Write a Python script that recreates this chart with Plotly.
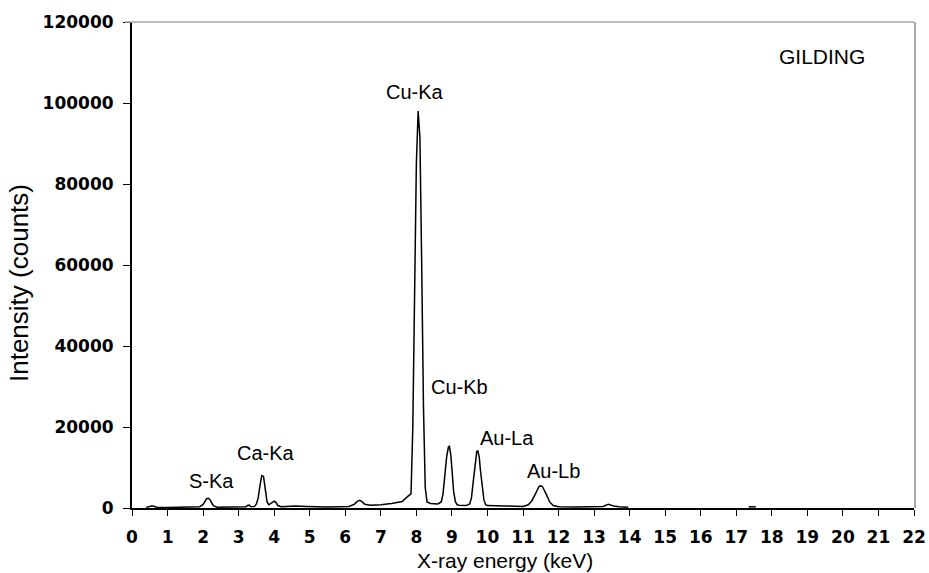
import plotly.graph_objects as go

# EDXRF spectrum of the gilding layer: energy (keV) vs detector counts
energy_kev = [0.40, 0.45, 0.50, 0.55, 0.60, 0.65, 0.70, 1.00, 1.50, 1.90,
              2.00, 2.05, 2.10, 2.15, 2.20, 2.25, 2.30, 2.40, 2.80, 3.20,
              3.25, 3.30, 3.35, 3.45, 3.50, 3.55, 3.60, 3.65, 3.70, 3.75,
              3.80, 3.85, 3.95, 4.00, 4.05, 4.10, 4.20, 4.40, 4.50, 4.60,
              4.90, 5.50, 6.10, 6.25, 6.35, 6.40, 6.45, 6.55, 6.70, 7.00,
              7.30, 7.60, 7.75, 7.85, 7.90, 7.95, 8.00, 8.05, 8.08, 8.10,
              8.15, 8.20, 8.25, 8.30, 8.40, 8.60, 8.70, 8.75, 8.80, 8.85,
              8.90, 8.93, 8.97, 9.00, 9.05, 9.10, 9.15, 9.20, 9.40, 9.50,
              9.55, 9.60, 9.65, 9.70, 9.73, 9.77, 9.80, 9.85, 9.90, 9.95,
              10.0, 10.5, 11.0, 11.15, 11.25, 11.35, 11.45, 11.50, 11.55, 11.65,
              11.75, 11.85, 12.0, 12.5, 13.0, 13.25, 13.40, 13.55, 13.70, 13.96,
              None, 17.35, 17.45, 17.55]
counts = [150, 300, 500, 500, 500, 400, 150, 120, 150, 300,
          900, 1600, 2300, 2400, 2000, 1100, 500, 200, 200, 300,
          600, 700, 300, 400, 1000, 2500, 5500, 8000, 7800, 4500,
          1500, 800, 1300, 1700, 1400, 600, 300, 400, 600, 500,
          400, 250, 400, 900, 1700, 1900, 1700, 900, 700, 800,
          1100, 1600, 2800, 3500, 20000, 55000, 85000, 98000, 93000, 91500,
          60000, 25000, 5000, 1500, 1100, 1000, 1500, 3500, 8000, 12500,
          15000, 15200, 13000, 9000, 4000, 1500, 800, 700, 600, 1000,
          2500, 6500, 11000, 14000, 14100, 12500, 9500, 5000, 2000, 800,
          600, 500, 400, 800, 1800, 3500, 5300, 5500, 5200, 3500,
          1500, 600, 300, 250, 300, 400, 900, 500, 300, 200,
          None, 300, 350, 300]

# Peak labels: text, energy, counts at the label's centre
peak_labels = ["S-Ka", "Ca-Ka", "Cu-Ka", "Cu-Kb", "Au-La", "Au-Lb"]
label_kev = [2.23, 3.77, 7.97, 9.22, 10.55, 11.85]
label_counts = [6600, 13600, 102700, 30000, 17300, 9100]

x_ticks = list(range(0, 23))
y_ticks = [0, 20000, 40000, 60000, 80000, 100000, 120000]

PLOT_L, PLOT_R, PLOT_T, PLOT_B = 132, 914, 22, 508
W, H = 929, 573

fig = go.Figure()
fig.add_trace(go.Scatter(
    x=energy_kev, y=counts, mode="lines",
    line=dict(color="black", width=1.5),
    connectgaps=False, hoverinfo="skip", showlegend=False,
))

label_font = dict(family="Liberation Sans, Arial, sans-serif", size=20, color="black")
for txt, xv, yv in zip(peak_labels, label_kev, label_counts):
    fig.add_annotation(x=xv, y=yv, text=txt, showarrow=False, font=label_font,
                       xanchor="center", yanchor="middle")


def px_x(px):
    return (px - PLOT_L) / (PLOT_R - PLOT_L)


def px_y(py):
    return (PLOT_B - py) / (PLOT_B - PLOT_T)


fig.add_annotation(x=px_x(822), y=px_y(57), xref="paper", yref="paper", text="GILDING",
                   showarrow=False, font=dict(family="Liberation Sans, Arial, sans-serif",
                                              size=21, color="black"),
                   xanchor="center", yanchor="middle")

# Axis titles
fig.add_annotation(x=px_x(505), y=px_y(573), xref="paper", yref="paper",
                   text="X-ray energy (keV)", showarrow=False,
                   font=dict(family="Liberation Sans, Arial, sans-serif", size=21, color="black"),
                   xanchor="center", yanchor="bottom", borderpad=0)
fig.add_annotation(x=px_x(19), y=px_y(283), xref="paper", yref="paper",
                   text="Intensity (counts)", showarrow=False, textangle=-90,
                   font=dict(family="Liberation Sans, Arial, sans-serif", size=26, color="black"),
                   xanchor="center", yanchor="middle")

# Frame: grey top edge, dark right edge
fig.add_shape(type="line", xref="paper", yref="paper", x0=px_x(125), x1=1, y0=1, y1=1,
              line=dict(color="#a8a8a8", width=1.5))
fig.add_shape(type="line", xref="paper", yref="paper", x0=px_x(915), x1=px_x(915), y0=0, y1=1,
              line=dict(color="#555555", width=1))

tick_font = dict(family="DejaVu Sans, sans-serif", size=17, color="black", weight="bold")
fig.update_xaxes(range=[0, 22], tickvals=x_ticks, ticktext=[str(v) for v in x_ticks],
                 ticks="outside", ticklen=6, tickcolor="black", tickwidth=1,
                 showline=True, linecolor="black", linewidth=1.5,
                 showgrid=False, zeroline=False, tickfont=tick_font,
                 ticklabelstandoff=7, automargin=False)
fig.update_yaxes(range=[0, 120000], tickvals=y_ticks, ticktext=[str(v) for v in y_ticks],
                 ticks="outside", ticklen=7, tickcolor="black", tickwidth=1,
                 showline=True, linecolor="black", linewidth=2,
                 showgrid=False, zeroline=False, tickfont=tick_font,
                 ticklabelstandoff=6, automargin=False)

fig.update_layout(
    width=W, height=H,
    margin=dict(l=PLOT_L, r=W - PLOT_R, t=PLOT_T, b=H - PLOT_B),
    paper_bgcolor="white", plot_bgcolor="white",
    showlegend=False,
)

fig.write_html("out.html")
